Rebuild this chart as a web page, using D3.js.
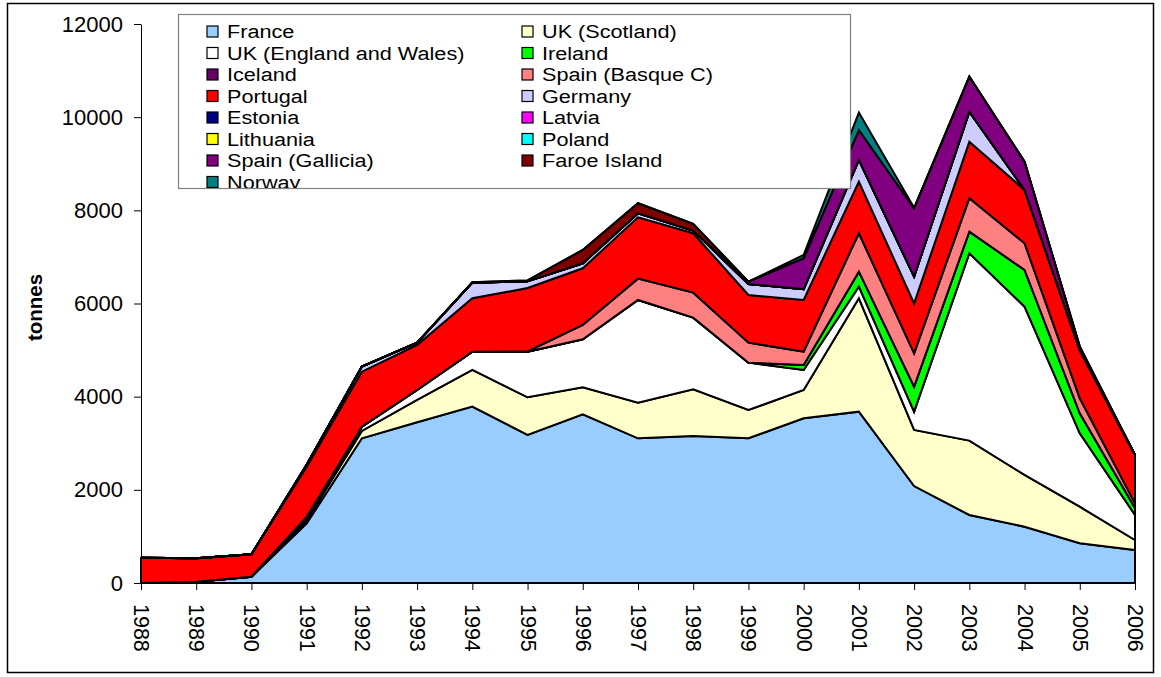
<!DOCTYPE html>
<html>
<head>
<meta charset="utf-8">
<script src="https://cdn.jsdelivr.net/npm/d3@7"></script>
<style>
  body { margin: 0; background: #fff; }
  text { font-family: "Liberation Sans", Arial, sans-serif; }
</style>
</head>
<body>
<svg id="chart" width="1161" height="677"></svg>
<script>
const years = [1988,1989,1990,1991,1992,1993,1994,1995,1996,1997,1998,1999,2000,2001,2002,2003,2004,2005,2006];

const seriesNames = ["France","UK (Scotland)","UK (England and Wales)","Ireland","Iceland","Spain (Basque C)",
  "Portugal","Germany","Estonia","Latvia","Lithuania","Poland","Spain (Gallicia)","Faroe Island","Norway"];
const seriesColors = ["#99CCFF","#FFFFCC","#FFFFFF","#00FF00","#660066","#FF8080",
  "#FF0000","#CCCCFF","#000080","#FF00FF","#FFFF00","#00FFFF","#800080","#800000","#008080"];

// tonnes per year
const france    = [0,28,135,1280,3107,3450,3786,3178,3621,3106,3156,3106,3536,3678,2082,1460,1209,852,708];
const ukScot    = [0,0,0,60,157,479,787,808,580,765,1002,608,608,2434,1203,1596,1110,786,215];
const ukEngW    = [0,0,0,60,92,215,393,980,1031,2205,1539,1016,429,250,393,4022,3613,1576,537];
const ireland   = [0,0,0,20,0,0,0,0,0,0,0,0,107,322,537,465,788,429,150];
const iceland   = [0,0,0,0,0,0,0,0,0,0,0,0,0,0,0,0,0,0,0];
const spainBasq = [0,0,0,0,0,0,0,5,307,458,536,429,286,824,716,716,573,322,100];
const portugal  = [543,502,481,1077,1181,966,1146,1361,1217,1317,1275,1024,1110,1108,1073,1216,1145,1037,1037];
const germany   = [0,0,0,40,108,50,336,143,108,86,56,236,229,466,573,644,0,0,0];
const estonia   = [0,0,0,0,0,0,0,0,0,0,0,0,0,0,0,0,0,0,0];
const latvia    = [0,0,0,0,0,0,0,0,0,0,0,0,0,0,0,0,0,0,0];
const lithuania = [0,0,0,0,0,0,0,0,0,0,0,0,0,0,0,0,0,0,0];
const poland    = [0,0,0,0,0,0,0,0,0,0,0,0,0,0,0,0,0,0,0];
const spainGal  = [0,0,0,0,0,0,0,0,0,0,0,50,666,644,1467,751,608,72,0];
const faroe     = [0,0,0,0,0,0,10,20,286,215,144,0,0,0,0,0,0,0,0];
const norway    = [0,0,0,0,0,0,0,0,0,0,0,0,71,372,10,0,0,0,0];

const seriesValues = [france,ukScot,ukEngW,ireland,iceland,spainBasq,portugal,germany,
  estonia,latvia,lithuania,poland,spainGal,faroe,norway];

const yTicks = [0,2000,4000,6000,8000,10000,12000];

const svg = d3.select("#chart");
const plot = {left: 141, right: 1135, top: 24, bottom: 583};

// outer chart border
svg.append("rect")
  .attr("x", 7.5).attr("y", 3.5)
  .attr("width", 1146).attr("height", 669)
  .attr("fill", "none").attr("stroke", "#000").attr("stroke-width", 1.5);

const x = d3.scaleLinear().domain([1988, 2006]).range([plot.left, plot.right]);
const y = d3.scaleLinear().domain([0, 12000]).range([plot.bottom, plot.top]);

// table for the stack
const table = years.map((yr, i) => {
  const row = {year: yr};
  seriesNames.forEach((n, s) => { row[n] = seriesValues[s][i]; });
  return row;
});

const stacked = d3.stack().keys(seriesNames)(table);

const area = d3.area()
  .x(d => x(d.data.year))
  .y0(d => y(d[0]))
  .y1(d => y(d[1]));

svg.append("g")
  .selectAll("path")
  .data(stacked)
  .join("path")
  .attr("d", area)
  .attr("fill", (d, i) => seriesColors[i])
  .attr("stroke", "#000")
  .attr("stroke-width", 2)
  .attr("stroke-linejoin", "miter");

// y axis
const yAxis = svg.append("g")
  .attr("transform", `translate(${plot.left},0)`)
  .call(d3.axisLeft(y).tickValues(yTicks).tickSize(7).tickSizeOuter(0).tickPadding(11).tickFormat(d3.format("d")));
yAxis.selectAll("text").attr("font-size", 22).attr("fill", "#000")
  .attr("font-family", "'Liberation Sans', Arial, sans-serif");
yAxis.selectAll("line, path").attr("stroke", "#000");

// x axis
const xAxis = svg.append("g")
  .attr("transform", `translate(0,${plot.bottom})`)
  .call(d3.axisBottom(x).tickValues(years).tickSize(7).tickSizeOuter(0).tickFormat(d3.format("d")));
xAxis.selectAll("line, path").attr("stroke", "#000");
xAxis.selectAll("text")
  .attr("font-size", 21.5).attr("fill", "#000")
  .attr("font-family", "'Liberation Sans', Arial, sans-serif")
  .attr("text-anchor", "start")
  .attr("dy", "0.35em")
  .attr("y", 0)
  .attr("transform", "translate(0,21) rotate(90)");

// y title
svg.append("text")
  .attr("transform", `translate(42,${(plot.top + plot.bottom) / 2 + 4}) rotate(-90)`)
  .attr("text-anchor", "middle")
  .attr("font-size", 20.5)
  .attr("font-weight", "bold")
  .text("tonnes");

// legend
const lg = {x: 178, y: 14, w: 672, h: 174};
svg.append("clipPath").attr("id", "legendClip")
  .append("rect").attr("x", lg.x).attr("y", lg.y).attr("width", lg.w).attr("height", lg.h);

svg.append("rect")
  .attr("x", lg.x + 0.5).attr("y", lg.y + 0.5)
  .attr("width", lg.w).attr("height", lg.h)
  .attr("fill", "#fff").attr("stroke", "#808080").attr("stroke-width", 1.2);

const legend = svg.append("g").attr("clip-path", "url(#legendClip)");
const items = legend.selectAll("g")
  .data(seriesNames)
  .join("g")
  .attr("transform", (d, i) => `translate(${i % 2 === 0 ? 207 : 522},${31 + Math.floor(i / 2) * 21.5})`);

items.append("rect")
  .attr("x", 0).attr("y", -5)
  .attr("width", 11).attr("height", 11)
  .attr("fill", (d, i) => seriesColors[i])
  .attr("stroke", "#000").attr("stroke-width", 1.2);

// Excel text here is a little wider than tall, so stretch it sideways
items.append("text")
  .attr("transform", "translate(20,7) scale(1.14,1)")
  .attr("font-size", 19)
  .text(d => d);
</script>
</body>
</html>
